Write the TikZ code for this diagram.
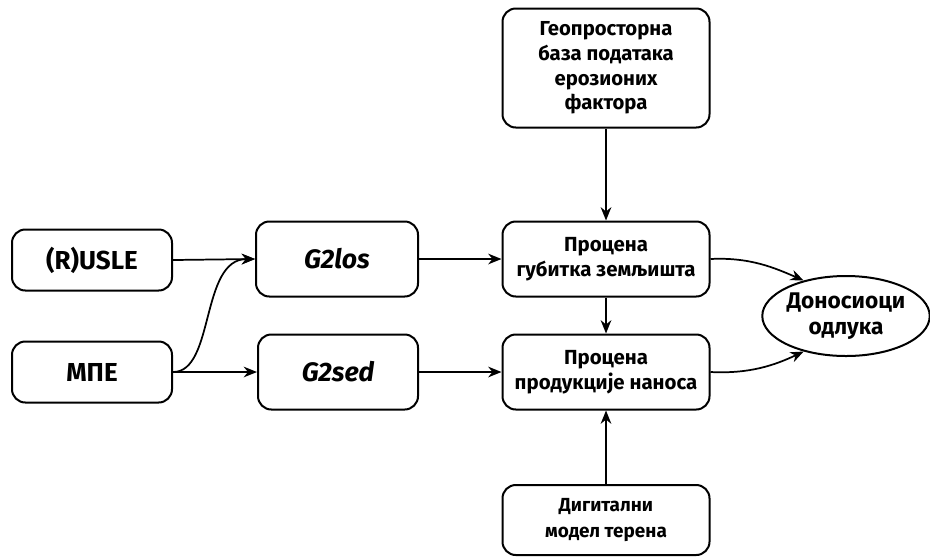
\documentclass[tikz,border=0pt]{standalone}
\usepackage{fontspec}
\setmainfont{Fira Sans}
\usetikzlibrary{shapes.geometric,arrows.meta}
\begin{document}
\begin{tikzpicture}[x=0.75pt,y=-0.75pt,
  box/.style={draw,line width=1.5pt,rounded corners=10pt,align=center,font=\bfseries\fontsize{15.2}{18.5}\selectfont,inner sep=0pt},
  conn/.style={line width=1.3pt,-{Stealth[length=10pt,width=8pt]}}]
\useasboundingbox (0,0) rectangle (930,558);
\node[box,minimum width=160*0.75pt,minimum height=61*0.75pt,font=\bfseries\fontsize{19.5}{22}\selectfont] (usle) at (92,260) {(R)USLE};
\node[box,minimum width=160*0.75pt,minimum height=61*0.75pt,font=\bfseries\fontsize{19.5}{22}\selectfont] (mpe) at (92,372) {МПЕ};
\node[box,minimum width=162*0.75pt,minimum height=75*0.75pt,font=\bfseries\itshape\fontsize{20}{22}\selectfont] (los) at (337,259) {G2los};
\node[box,minimum width=160*0.75pt,minimum height=75*0.75pt,font=\bfseries\itshape\fontsize{20}{22}\selectfont] (sed) at (338,372) {G2sed};
\node[box,minimum width=207*0.75pt,minimum height=119*0.75pt] (geo) at (606,68) {Геопросторна\\база података\\ерозионих\\фактора};
\node[box,minimum width=207*0.75pt,minimum height=75*0.75pt,font=\bfseries\fontsize{15.3}{19}\selectfont] (p1) at (606,259) {Процена\\губитка земљишта};
\node[box,minimum width=207*0.75pt,minimum height=75*0.75pt,font=\bfseries\fontsize{15.3}{19}\selectfont] (p2) at (606,372) {Процена\\продукције наноса};
\node[box,minimum width=207*0.75pt,minimum height=70*0.75pt,font=\bfseries\fontsize{14.2}{19}\selectfont] (dmt) at (606,520) {Дигитални\\модел терена};
\node[draw,line width=1.5pt,ellipse,minimum width=165*0.75pt,minimum height=80*0.75pt,inner sep=0pt,align=center,font=\bfseries\fontsize{17}{19}\selectfont] (don) at (846,316) {Доносиоци\\одлука};
\draw[conn] (usle.east) -- (los.west);
\draw[conn] (mpe.east) .. controls (215,372) and (200,259) .. (los.west);
\draw[conn] (mpe.east) -- (sed.west);
\draw[conn] (los.east) -- (p1.west);
\draw[conn] (sed.east) -- (p2.west);
\draw[conn] (geo.south) -- (p1.north);
\draw[conn] (p1.south) -- (p2.north);
\draw[conn] (dmt.north) -- (p2.south);
\draw[conn] (p1.east) .. controls (750,257) and (775,268) .. (don.140);
\draw[conn] (p2.east) .. controls (750,374) and (775,365) .. (don.-140);
\end{tikzpicture}
\end{document}
